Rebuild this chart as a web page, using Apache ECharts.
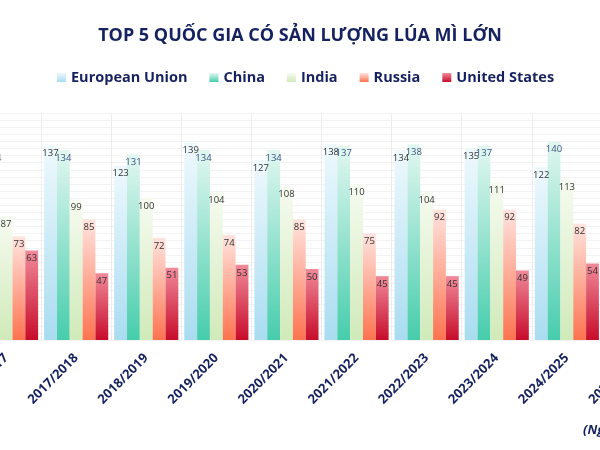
<!DOCTYPE html>
<html>
<head>
<meta charset="utf-8">
<script src="https://cdn.jsdelivr.net/npm/echarts@6/dist/echarts.min.js"></script>
<style>
  html, body { margin: 0; padding: 0; background: #fff; }
  #chart { width: 600px; height: 450px; }
</style>
</head>
<body>
<div id="chart"></div>
<script>
var seasons = ["2016/2017", "2017/2018", "2018/2019", "2019/2020", "2020/2021",
  "2021/2022", "2022/2023", "2023/2024", "2024/2025", "2025/2026"];
// first two EU/China values and the last season sit outside the visible crop, estimated
var euData = [145, 137, 123, 139, 127, 138, 134, 135, 122, 143];
var chinaData = [134, 134, 131, 134, 134, 137, 138, 137, 140, 140];
var indiaData = [87, 99, 100, 104, 108, 110, 104, 111, 113, 117];
var russiaData = [73, 85, 72, 74, 85, 75, 92, 92, 82, 84];
var usData = [63, 47, 51, 53, 50, 45, 45, 49, 54, 53];
var seriesNames = ["European Union", "China", "India", "Russia", "United States"];

var navy = "#16225f";

function grad(top, bottom) {
  return new echarts.graphic.LinearGradient(0, 0, 0, 1, [
    { offset: 0, color: top },
    { offset: 1, color: bottom }
  ]);
}

var colors = [
  grad("#eef9fd", "#a9dcf1"),
  grad("#e2f7f0", "#46cdac"),
  grad("#f6fbf0", "#d0eab9"),
  grad("#ffe3de", "#fd7350"),
  grad("#f08a99", "#c70c2b")
];

function makeSeries(name, data, idx) {
  return {
    name: name,
    type: "bar",
    data: data,
    barGap: "0%",
    barCategoryGap: "8.5%",
    itemStyle: { color: colors[idx] },
    label: {
      show: true,
      position: "insideTop",
      distance: 3,
      fontFamily: "Open Sans",
      fontSize: 9.5,
      color: idx === 1 ? "#3b5385" : "#333333"
    }
  };
}

var myChart = echarts.init(document.getElementById("chart"));
var option = {
  animation: false,
  title: {
    text: "TOP 5 QUỐC GIA CÓ SẢN LƯỢNG LÚA MÌ LỚN",
    left: "center",
    top: 22,
    textStyle: {
      fontFamily: "Open Sans",
      fontWeight: "bold",
      fontSize: 18,
      color: navy
    }
  },
  legend: {
    data: seriesNames,
    top: 65,
    left: 52,
    icon: "rect",
    itemWidth: 9,
    itemHeight: 9,
    itemGap: 22,
    textStyle: {
      fontFamily: "Open Sans",
      fontWeight: "bold",
      fontSize: 14.5,
      color: navy
    }
  },
  grid: {
    left: -29,
    top: 113,
    width: 701,
    height: 227,
    containLabel: false,
    outerBoundsMode: "none"
  },
  xAxis: {
    type: "category",
    data: seasons,
    axisLine: { show: false },
    axisTick: { show: false },
    splitLine: { show: true, lineStyle: { color: "#ececec" } },
    axisLabel: {
      rotate: 45,
      margin: 16,
      interval: 0,
      fontFamily: "Open Sans",
      fontWeight: "bold",
      fontSize: 13,
      color: navy
    }
  },
  yAxis: {
    type: "value",
    min: 0,
    max: 160,
    interval: 5,
    axisLine: { show: false },
    axisTick: { show: false },
    axisLabel: { show: false },
    splitLine: { lineStyle: { color: "#f3f3f3" } }
  },
  graphic: [{
    type: "text",
    left: 583,
    top: 424,
    style: {
      text: "(Nguồn: USDA)",
      font: "italic bold 13px 'Open Sans'",
      fill: navy
    }
  }],
  series: [
    makeSeries(seriesNames[0], euData, 0),
    makeSeries(seriesNames[1], chinaData, 1),
    makeSeries(seriesNames[2], indiaData, 2),
    makeSeries(seriesNames[3], russiaData, 3),
    makeSeries(seriesNames[4], usData, 4)
  ]
};
myChart.setOption(option);
</script>
</body>
</html>
